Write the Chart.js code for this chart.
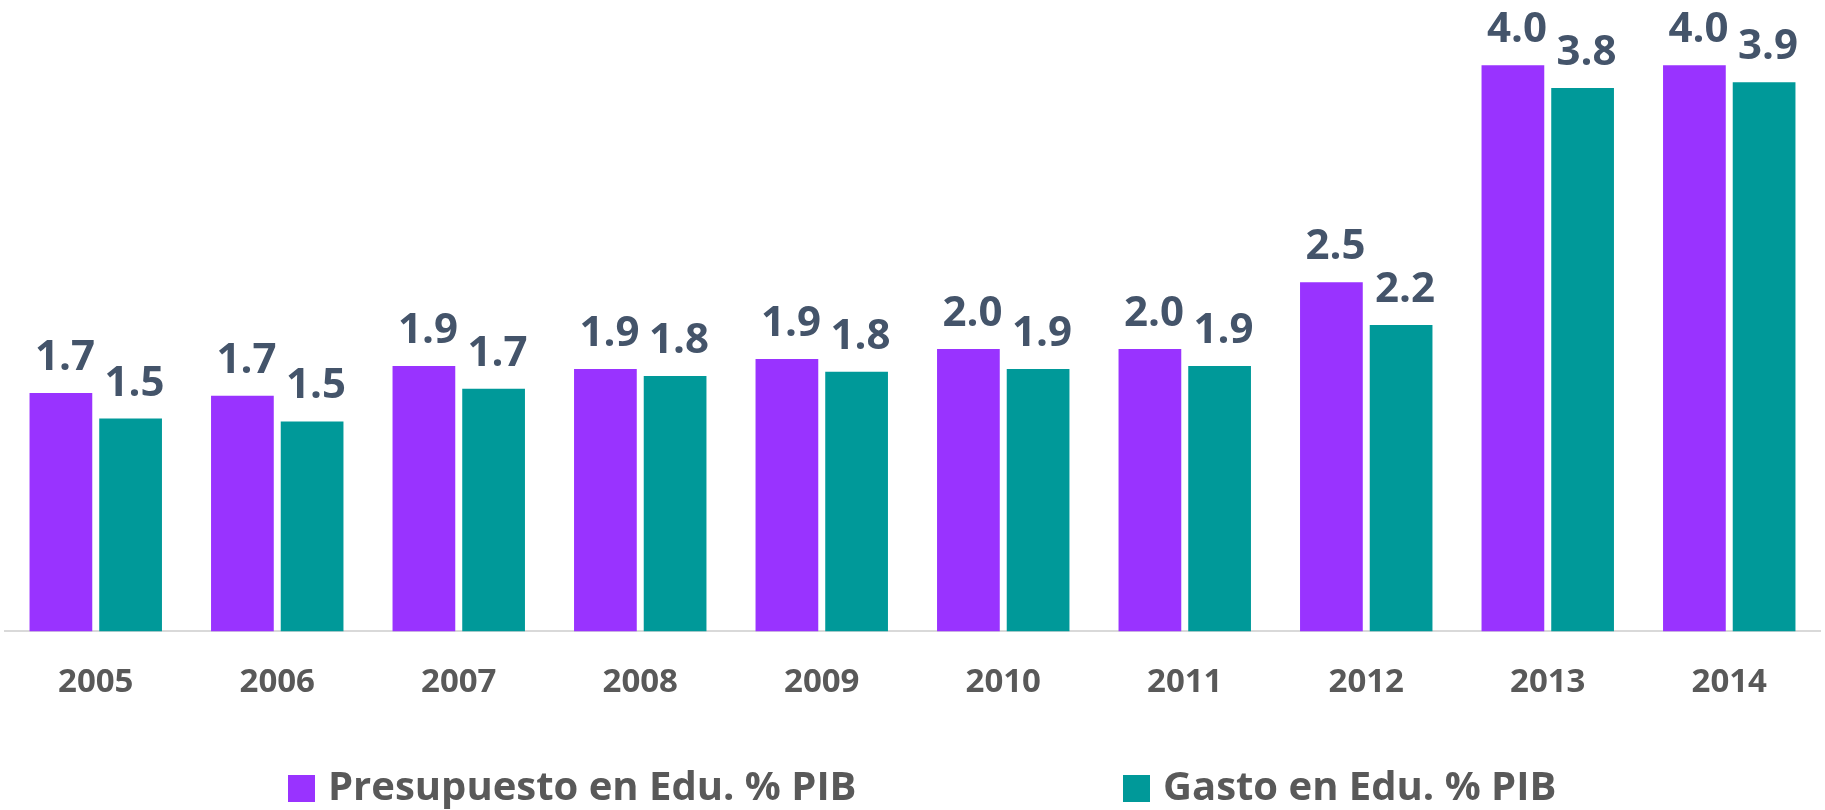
<!DOCTYPE html>
<html>
<head>
<meta charset="utf-8">
<script src="https://cdn.jsdelivr.net/npm/chart.js@4.4.0/dist/chart.umd.min.js"></script>
<style>
  body { margin: 0; background: #fff; }
  #wrap { position: relative; width: 1825px; height: 810px; }
  #myChart { position: absolute; left: 0; top: 0; }
  .legend-item {
    position: absolute; top: 766px; height: 44px;
    font-family: "Open Sans", sans-serif; font-weight: 700; font-size: 40px;
    color: #595959; white-space: nowrap; line-height: 44px;
  }
  .legend-box {
    position: absolute; left: 0; top: 9px; width: 27px; height: 27px;
  }
  .legend-text { position: absolute; left: 40px; top: -3px; }
</style>
</head>
<body>
<div id="wrap">
  <canvas id="myChart" width="1825" height="810"></canvas>
  <div id="legend"></div>
</div>
<script>
var years = ['2005', '2006', '2007', '2008', '2009', '2010', '2011', '2012', '2013', '2014'];
var presupuesto = [1.68, 1.66, 1.87, 1.85, 1.92, 1.99, 1.99, 2.46, 3.99, 3.99];
var gasto = [1.50, 1.48, 1.71, 1.80, 1.83, 1.85, 1.87, 2.16, 3.83, 3.87];
var seriesNames = ['Presupuesto en Edu. % PIB', 'Gasto en Edu. % PIB'];
var seriesColors = ['#9933FF', '#009999'];
var legendLeft = [288, 1123];

// draws the value above each bar
var valueLabels = {
    id: 'valueLabels',
    afterDatasetsDraw: function (chart) {
        var ctx = chart.ctx;
        ctx.save();
        ctx.font = '700 42px "Open Sans"';
        ctx.fillStyle = '#44546A';
        ctx.textAlign = 'center';
        ctx.textBaseline = 'alphabetic';
        chart.data.datasets.forEach(function (ds, i) {
            var meta = chart.getDatasetMeta(i);
            meta.data.forEach(function (bar, j) {
                ctx.fillText(ds.data[j].toFixed(1), bar.x + 4, bar.y - 23);
            });
        });
        ctx.restore();
    }
};

function drawChart() {
    var ctx = document.getElementById('myChart').getContext('2d');

    var myChart = new Chart(ctx, {
        type: 'bar',
        data: {
            labels: years,
            datasets: [{
                label: seriesNames[0],
                data: presupuesto,
                backgroundColor: seriesColors[0],
                categoryPercentage: 0.768,
                barPercentage: 0.9
            }, {
                label: seriesNames[1],
                data: gasto,
                backgroundColor: seriesColors[1],
                categoryPercentage: 0.768,
                barPercentage: 0.9
            }]
        },
        options: {
            responsive: false,
            animation: false,
            layout: { padding: { left: 5, right: 5, top: 0, bottom: 77 } },
            plugins: {
                legend: { display: false },
                tooltip: { enabled: false }
            },
            scales: {
                x: {
                    grid: { display: false, drawTicks: false },
                    border: { display: true, color: '#D9D9D9', width: 2 },
                    ticks: {
                        padding: 31,
                        color: '#595959',
                        font: { family: 'Open Sans', weight: '700', size: 33 }
                    }
                },
                y: {
                    display: false,
                    min: 0,
                    max: 4.45
                }
            }
        },
        plugins: [valueLabels]
    });

    var legend = document.getElementById('legend');
    for (var i = 0; i < seriesNames.length; i++) {
        var item = document.createElement('div');
        item.className = 'legend-item';
        item.style.left = legendLeft[i] + 'px';
        item.innerHTML = '<span class="legend-box" style="background:' + seriesColors[i] + '"></span>' +
            '<span class="legend-text">' + seriesNames[i] + '</span>';
        legend.appendChild(item);
    }
}

drawChart();
</script>
</body>
</html>
